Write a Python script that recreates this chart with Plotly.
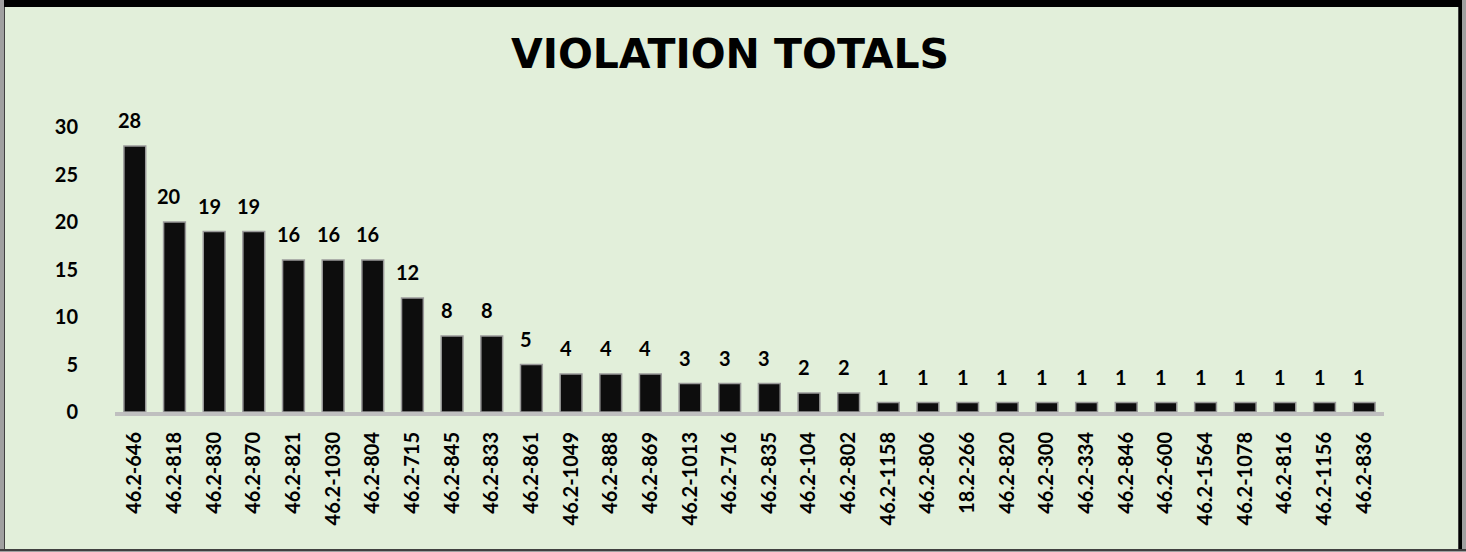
import plotly.graph_objects as go

categories = ["46.2-646", "46.2-818", "46.2-830", "46.2-870", "46.2-821", "46.2-1030",
              "46.2-804", "46.2-715", "46.2-845", "46.2-833", "46.2-861", "46.2-1049",
              "46.2-888", "46.2-869", "46.2-1013", "46.2-716", "46.2-835", "46.2-104",
              "46.2-802", "46.2-1158", "46.2-806", "18.2-266", "46.2-820", "46.2-300",
              "46.2-334", "46.2-846", "46.2-600", "46.2-1564", "46.2-1078", "46.2-816",
              "46.2-1156", "46.2-836"]
values = [28, 20, 19, 19, 16, 16, 16, 12, 8, 8, 5, 4, 4, 4, 3, 3, 3, 2, 2,
          1, 1, 1, 1, 1, 1, 1, 1, 1, 1, 1, 1, 1]
y_ticks = [0, 5, 10, 15, 20, 25, 30]

FONT = "Lato"
BG = "#E2EFDA"
W, H = 1466, 552
ML, MR, MT, MB = 115, 82, 127, 140

fig = go.Figure()
fig.add_trace(go.Bar(
    x=categories, y=values,
    marker=dict(color="#0d0d0d", line=dict(color="#9a9a9a", width=1.5)),
    hoverinfo="x+y",
))

annotations = []
for c, v in zip(categories, values):
    annotations.append(dict(
        x=c, y=v, xref="x", yref="y", text=str(v), showarrow=False,
        yanchor="bottom", yshift=12, xshift=-5,
        font=dict(family=FONT, size=20, color="#000000", weight="bold"),
    ))

# frame drawn in pixel units anchored to the plot area origin
def rect(px0, py0, px1, py1, color):
    return dict(type="rect", xref="paper", yref="paper",
                xsizemode="pixel", ysizemode="pixel", xanchor=0, yanchor=0,
                x0=px0 - ML, x1=px1 - ML, y0=(H - MB) - py1, y1=(H - MB) - py0,
                fillcolor=color, line=dict(width=0), layer="above")

shapes = [
    rect(0, 0, W, 7, "#000000"),
    rect(0, 0, 4, H, "#a0a0a0"),
    rect(4, 7, 5, H, "#404040"),
    rect(1458, 7, 1459, H, "#404040"),
    rect(1459, 0, 1462, H, "#000000"),
    rect(1462, 0, W, H, "#a0a0a0"),
    rect(0, 549, W, 551, "#404040"),
    rect(0, 551, W, H, "#a0a0a0"),
]

fig.update_layout(
    width=W, height=H,
    margin=dict(l=ML, r=MR, t=MT, b=MB),
    paper_bgcolor=BG, plot_bgcolor=BG,
    bargap=0.45,
    showlegend=False,
    title=dict(text="VIOLATION TOTALS", x=730 / W, xref="container", xanchor="center",
               y=1 - 54 / H, yref="container", yanchor="middle",
               font=dict(family="DejaVu Sans", size=41, color="#000000", weight="bold")),
    xaxis=dict(type="category", tickangle=-90, showgrid=False,
               showline=True, linecolor="#bfbfbf", linewidth=4,
               ticks="", ticklabelstandoff=8,
               tickfont=dict(family=FONT, size=20, color="#000000", weight="bold")),
    yaxis=dict(range=[0, 30], tickvals=y_ticks, showgrid=False, zeroline=False,
               showline=False, ticks="", ticklabelstandoff=36,
               tickfont=dict(family=FONT, size=20, color="#000000", weight="bold")),
    annotations=annotations,
    shapes=shapes,
)

fig.write_html("out.html", config={"displayModeBar": False},
               post_script="document.body.style.margin='0';document.body.style.overflow='hidden';")
